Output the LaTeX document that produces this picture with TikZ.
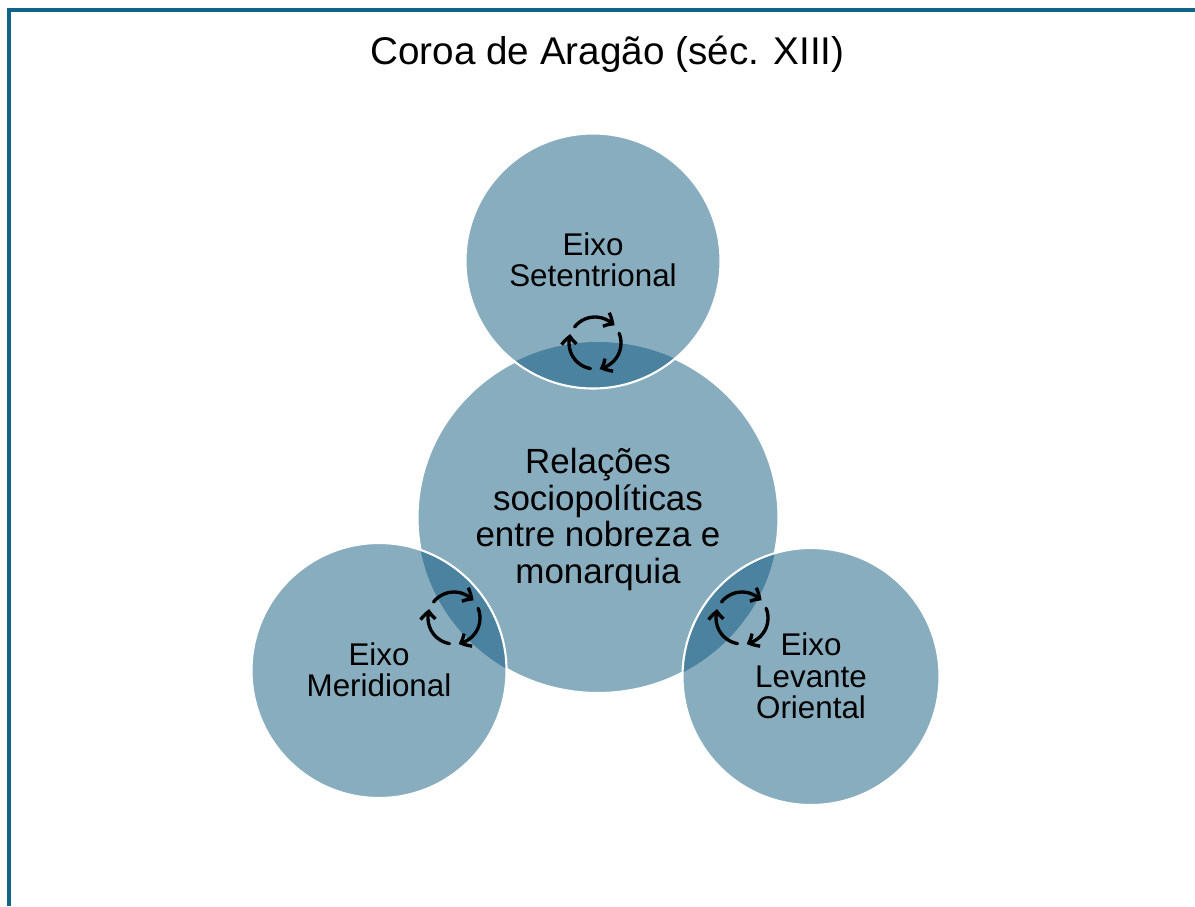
\documentclass[tikz,border=0pt]{standalone}
\usepackage{fontspec}
\setmainfont{Liberation Sans}
\usetikzlibrary{arrows.meta,bending}
\definecolor{frameline}{HTML}{0F6487}
\definecolor{disc}{HTML}{88ADBF}
\definecolor{overlap}{HTML}{4A82A0}
\tikzset{
  discfill/.style={fill=disc, draw=white, line width=1.2pt},
  ring/.style={draw=white, line width=1.2pt},
  titlelab/.style={text=black, font=\fontsize{22}{25}\selectfont},
  midlab/.style={text=black, align=center, font=\fontsize{19.9}{20.7}\selectfont},
  lab/.style={text=black, align=center, font=\fontsize{17.85}{17.9}\selectfont},
  cyc/.style={black, line width=1.9pt, line cap=round, -{Straight Barb[bend,length=4.5pt,width=8.5pt,line width=1.9pt]}},
}
\begin{document}
\begin{tikzpicture}[x=0.02cm,y=-0.02cm]
  \useasboundingbox (0,0) rectangle (1195,906);
  \fill[white] (0,0) rectangle (1195,906);
  \draw[frameline, line width=1.95pt] (9,906)--(9,10)--(1195,10);

  \coordinate (mid) at (598,517.5);
  \coordinate (top) at (593,261);
  \coordinate (left) at (379,670.5);
  \coordinate (right) at (811,676.5);

  \draw[discfill] (mid) ellipse (180.5 and 175.5);
  \fill[disc] (top) circle (127.5);
  \fill[disc] (left) circle (127.5);
  \fill[disc] (right) circle (128.5);

  % darker lens where each outer disc meets the middle one
  \begin{scope}
    \clip (mid) ellipse (180.5 and 175.5);
    \fill[overlap] (top) circle (127.5);
    \fill[overlap] (left) circle (127.5);
    \fill[overlap] (right) circle (128.5);
  \end{scope}
  \draw[ring] (top) circle (127.5);
  \draw[ring] (left) circle (127.5);
  \draw[ring] (right) circle (128.5);

  % three turning arrows on each lens
  \foreach \cx/\cy in {595/343, 454/618, 742/618}{
    \draw[cyc] (\cx,\cy) ++(142:26 and -26) arc (142:42:26 and -26);
    \draw[cyc] (\cx,\cy) ++(22:26 and -26) arc (22:-80:26 and -26);
    \draw[cyc] (\cx,\cy) ++(-100:26 and -26) arc (-100:-200:26 and -26);
  }

  \node[titlelab] (title) at (607.5,54) {Coroa de Aragão (séc. XIII)};
  \node[midlab] (midtext) at (598,519.5) {Relações\\sociopolíticas\\entre nobreza e\\monarquia};
  \node[lab] (toptext) at (593,260) {Eixo\\Setentrional};
  \node[lab] (lefttext) at (379,670) {Eixo\\Meridional};
  \node[lab] (righttext) at (811,676) {Eixo\\Levante\\Oriental};
\end{tikzpicture}
\end{document}
